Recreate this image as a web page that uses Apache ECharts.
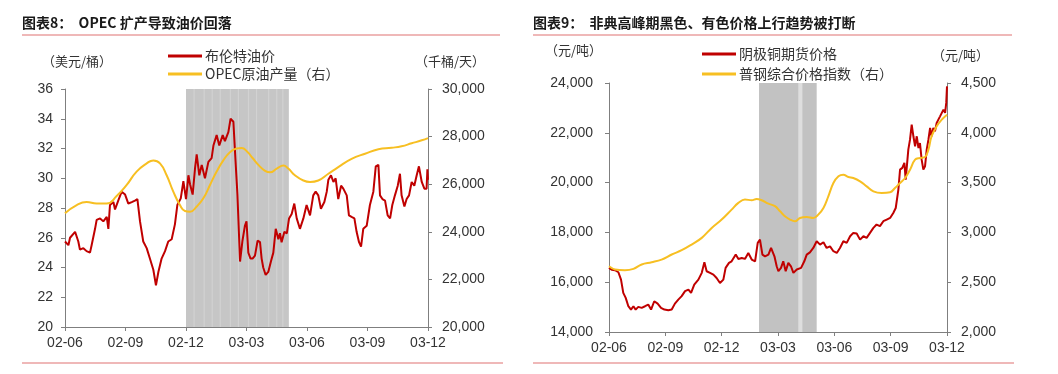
<!DOCTYPE html>
<html><head><meta charset="utf-8">
<script src="https://cdn.jsdelivr.net/npm/echarts@6/dist/echarts.min.js"></script>
<style>html,body{margin:0;padding:0;background:#fff}#c{width:1058px;height:374px}</style>
</head><body><div id="c"></div>
<script>
// x positions: months elapsed since 2002-06
const tickLabels = ['02-06','02-09','02-12','03-03','03-06','03-09','03-12'];
const brent = [[0,25.75],[0.17,25.5],[0.25,26.0],[0.5,26.4],[0.58,26.5],[0.66,25.75],[0.74,25.2],[0.91,25.3],[1.07,25.1],[1.24,25.0],[1.32,25.5],[1.49,26.6],[1.57,27.2],[1.74,27.3],[1.9,27.1],[2.07,27.4],[2.15,26.6],[2.23,28.2],[2.4,28.4],[2.48,27.9],[2.64,28.5],[2.81,29.1],[2.98,28.9],[3.14,28.3],[3.31,28.4],[3.47,28.5],[3.59,28.6],[3.72,27.1],[3.88,25.75],[4.05,25.3],[4.21,24.6],[4.38,23.85],[4.51,22.8],[4.63,23.7],[4.79,24.6],[4.96,25.1],[5.12,25.75],[5.29,25.9],[5.45,26.9],[5.57,28.2],[5.74,28.65],[5.87,29.8],[6.0,28.6],[6.12,30.2],[6.2,29.6],[6.33,28.9],[6.45,30.7],[6.53,31.6],[6.66,30.2],[6.78,30.9],[6.94,30.0],[7.11,31.1],[7.27,31.35],[7.36,32.2],[7.52,32.9],[7.65,32.2],[7.82,32.9],[7.93,32.5],[8.1,33.1],[8.21,34.0],[8.35,33.8],[8.43,31.8],[8.55,28.9],[8.68,24.4],[8.8,25.8],[8.92,26.8],[9.0,27.1],[9.09,25.0],[9.2,24.6],[9.3,24.6],[9.42,24.8],[9.55,25.8],[9.67,25.7],[9.75,24.6],[9.83,24.0],[9.95,23.5],[10.08,23.7],[10.21,24.4],[10.33,25.0],[10.45,26.6],[10.58,25.9],[10.66,26.3],[10.74,25.7],[10.88,26.4],[11.0,26.3],[11.11,27.3],[11.24,27.6],[11.37,28.3],[11.49,27.3],[11.65,26.6],[11.82,27.3],[11.98,28.2],[12.15,27.5],[12.31,28.85],[12.43,29.1],[12.56,28.85],[12.69,27.95],[12.86,28.4],[12.98,29.1],[13.06,29.9],[13.19,30.2],[13.31,29.75],[13.42,30.0],[13.55,28.6],[13.69,29.5],[13.8,29.3],[13.97,28.85],[14.08,27.5],[14.21,27.4],[14.35,27.3],[14.46,26.4],[14.58,25.7],[14.68,25.4],[14.79,26.6],[14.96,26.8],[15.12,28.2],[15.29,29.1],[15.41,30.8],[15.54,30.9],[15.62,28.85],[15.74,28.6],[15.87,28.5],[16.0,27.5],[16.12,27.3],[16.23,28.2],[16.36,28.85],[16.5,29.5],[16.61,30.3],[16.69,28.85],[16.83,28.1],[16.94,28.6],[17.06,28.85],[17.19,29.75],[17.32,29.5],[17.44,30.2],[17.55,30.8],[17.69,29.75],[17.82,29.3],[17.93,29.3],[17.97,30.6],[18.0,29.9]];
const opec = [[0,24781],[0.58,25125],[1.07,25250],[1.57,25188],[2.07,25188],[2.56,25500],[3.06,25969],[3.55,26531],[4.05,26875],[4.38,27000],[4.71,26875],[5.04,26375],[5.37,25688],[5.7,25125],[5.95,24875],[6.2,24844],[6.53,25063],[6.86,25406],[7.19,25969],[7.52,26531],[7.85,27000],[8.18,27344],[8.51,27500],[8.76,27520],[9.05,27350],[9.3,27100],[9.59,26813],[9.92,26563],[10.17,26500],[10.5,26656],[10.83,26781],[11.07,26656],[11.4,26375],[11.82,26156],[12.15,26094],[12.56,26156],[13.06,26438],[13.55,26719],[14.21,27063],[14.88,27281],[15.54,27469],[16.2,27531],[16.69,27594],[17.19,27719],[17.69,27844],[18.0,27938]];
const copper = [[0,16574],[0.14,16500],[0.32,16480],[0.5,16400],[0.64,16105],[0.76,15570],[0.89,15370],[1.03,15035],[1.17,14900],[1.3,15035],[1.42,14900],[1.56,15010],[1.74,14970],[1.92,15035],[2.09,15100],[2.24,14900],[2.41,15235],[2.59,15140],[2.77,14970],[2.95,14900],[3.16,14875],[3.34,14900],[3.51,15140],[3.69,15300],[3.87,15440],[4.05,15640],[4.23,15700],[4.37,15570],[4.54,15905],[4.76,16105],[4.94,16375],[5.08,16800],[5.2,16440],[5.38,16375],[5.56,16305],[5.73,16170],[5.91,15970],[6.09,16105],[6.21,16575],[6.39,16775],[6.53,16840],[6.75,17110],[6.89,16935],[7.07,16975],[7.24,16935],[7.42,17175],[7.6,16910],[7.78,16840],[7.92,17580],[8.04,17710],[8.17,17110],[8.31,17040],[8.49,17110],[8.63,17375],[8.81,17040],[8.93,16640],[9.02,16440],[9.16,16575],[9.28,16840],[9.41,16440],[9.55,16775],[9.69,16640],[9.82,16375],[10.0,16510],[10.23,16575],[10.4,16840],[10.53,17110],[10.7,17200],[10.88,17375],[11.06,17645],[11.24,17510],[11.42,17605],[11.59,17375],[11.77,17440],[11.95,17245],[12.13,17175],[12.3,17375],[12.48,17645],[12.66,17580],[12.84,17845],[13.01,17980],[13.19,17955],[13.37,17710],[13.55,17845],[13.72,17780],[13.9,17980],[14.08,18180],[14.25,18315],[14.43,18250],[14.61,18450],[14.79,18515],[14.97,18580],[15.14,18780],[15.27,18980],[15.41,19720],[15.5,20520],[15.62,20590],[15.73,20790],[15.8,20120],[15.94,21325],[16.03,21725],[16.12,22330],[16.21,21860],[16.3,21460],[16.39,21860],[16.48,21390],[16.56,21590],[16.65,20920],[16.74,20520],[16.83,20655],[16.92,21325],[17.01,21725],[17.1,22195],[17.18,21860],[17.27,22195],[17.36,22060],[17.45,22395],[17.54,22530],[17.63,22660],[17.72,22600],[17.81,22930],[17.9,22800],[17.96,23200],[18.0,23865]];
const steel = [[0,2660],[0.32,2628],[0.85,2620],[1.3,2634],[1.74,2678],[2.27,2700],[2.8,2727],[3.34,2778],[3.87,2821],[4.4,2878],[4.94,2945],[5.47,3045],[6.0,3129],[6.53,3229],[6.89,3296],[7.24,3330],[7.6,3323],[7.86,3336],[8.13,3323],[8.49,3289],[8.84,3263],[9.11,3212],[9.37,3162],[9.64,3129],[9.9,3112],[10.17,3145],[10.53,3155],[10.88,3145],[11.15,3179],[11.42,3245],[11.68,3362],[11.95,3496],[12.22,3564],[12.48,3580],[12.75,3556],[13.01,3546],[13.37,3513],[13.72,3462],[14.08,3412],[14.52,3396],[14.97,3403],[15.23,3446],[15.5,3496],[15.77,3546],[16.03,3630],[16.3,3730],[16.56,3747],[16.83,3757],[17.01,3831],[17.18,3965],[17.45,4065],[17.72,4132],[18.0,4182]];
const sarsLeft = [6.0, 11.1];
const leftStripes = [6.4, 6.9, 7.3, 7.7, 8.2, 8.6, 9.1, 9.5, 10.1, 10.5, 10.8];
const sarsRight = [7.99, 11.06];
const rightGap = [10.08, 10.3];

const RED = '#c00000', YEL = '#f7bf22', AX = '#7f7f7f', TXT = '#333';
const numFont = 'Liberation Sans, Arial, sans-serif';
const cjk = '"Noto Sans CJK SC", sans-serif';
const fmtC = v => v.toLocaleString('en-US');

function xAxis(gi){
  return {type:'value', gridIndex:gi, min:0, max:18, interval:3,
    axisLine:{lineStyle:{color:AX,width:1}}, axisTick:{show:true,length:4,lineStyle:{color:AX}},
    splitLine:{show:false},
    axisLabel:{formatter:v=>tickLabels[Math.round(v/3)], color:TXT, fontFamily:numFont, fontSize:14, margin:9}};
}
function yAxis(gi,pos,min,max,iv,fmt,margin){
  return {type:'value', gridIndex:gi, position:pos, min, max, interval:iv,
    axisLine:{show:true,lineStyle:{color:AX,width:1}}, axisTick:{show:true,length:4,lineStyle:{color:AX}},
    splitLine:{show:false},
    axisLabel:{formatter:fmt, color:TXT, fontFamily:numFont, fontSize:14, margin}};
}

const stripeData = leftStripes.map(s => [{xAxis:s-0.03, itemStyle:{color:'rgba(225,225,225,0.45)'}},{xAxis:s+0.03}]);

const option = {
  animation:false,
  grid:[{left:65,right:630,top:89,bottom:47},{left:609,right:111,top:83,bottom:42}],
  xAxis:[xAxis(0), xAxis(1)],
  yAxis:[
    yAxis(0,'left',20,36,2,v=>String(v),12),
    yAxis(0,'right',20000,30000,2000,fmtC,14),
    yAxis(1,'left',14000,24000,2000,fmtC,16),
    yAxis(1,'right',2000,4500,500,fmtC,14)
  ],
  legend:[
    {data:['布伦特油价','OPEC原油产量（右）'], orient:'vertical', left:163, top:44, itemGap:4,
     itemWidth:34, itemHeight:3, icon:'rect', textStyle:{fontFamily:cjk, fontSize:14, color:TXT, padding:[0,0,0,-2]}},
    {data:['阴极铜期货价格','普钢综合价格指数（右）'], orient:'vertical', left:697, top:42, itemGap:6,
     itemWidth:34, itemHeight:3, icon:'rect', textStyle:{fontFamily:cjk, fontSize:14, color:TXT, padding:[0,0,0,-2]}}
  ],
  series:[
    {name:'shadeL', type:'line', xAxisIndex:0, yAxisIndex:0, data:[], silent:true, z:1,
      markArea:{silent:true, itemStyle:{color:'#c6c6c6'}, data:[[{xAxis:sarsLeft[0]},{xAxis:sarsLeft[1]}]].concat(stripeData)}},
    {name:'shadeR', type:'line', xAxisIndex:1, yAxisIndex:2, data:[], silent:true, z:1,
      markArea:{silent:true, itemStyle:{color:'#c2c2c2'}, data:[[{xAxis:sarsRight[0]},{xAxis:sarsRight[1]}],
        [{xAxis:rightGap[0], itemStyle:{color:'#dedede'}},{xAxis:rightGap[1]}]]}},
    {name:'布伦特油价', type:'line', xAxisIndex:0, yAxisIndex:0, data:brent, showSymbol:false, z:3,
      lineStyle:{color:RED,width:2}, itemStyle:{color:RED}},
    {name:'OPEC原油产量（右）', type:'line', xAxisIndex:0, yAxisIndex:1, data:opec, smooth:0.5, showSymbol:false, z:4,
      lineStyle:{color:YEL,width:2}, itemStyle:{color:YEL}},
    {name:'阴极铜期货价格', type:'line', xAxisIndex:1, yAxisIndex:2, data:copper, showSymbol:false, z:3,
      lineStyle:{color:RED,width:2}, itemStyle:{color:RED}},
    {name:'普钢综合价格指数（右）', type:'line', xAxisIndex:1, yAxisIndex:3, data:steel, smooth:0.4, showSymbol:false, z:4,
      lineStyle:{color:YEL,width:2}, itemStyle:{color:YEL}}
  ],
  graphic:[
    {type:'text', left:22, top:16, style:{text:'图表8：  OPEC 扩产导致油价回落', font:'bold 14px "Noto Sans CJK SC", sans-serif', fill:'#1a1a1a'}},
    {type:'text', left:533, top:16, style:{text:'图表9：  非典高峰期黑色、有色价格上行趋势被打断', font:'bold 14px "Noto Sans CJK SC", sans-serif', fill:'#1a1a1a'}},
    {type:'line', shape:{x1:22,y1:35,x2:500,y2:35}, style:{stroke:'#eaa0a0',lineWidth:1.5}},
    {type:'line', shape:{x1:533,y1:35,x2:1012,y2:35}, style:{stroke:'#eaa0a0',lineWidth:1.5}},
    {type:'line', shape:{x1:22,y1:363,x2:503,y2:363}, style:{stroke:'#eaa0a0',lineWidth:1.5}},
    {type:'line', shape:{x1:533,y1:363,x2:1014,y2:363}, style:{stroke:'#eaa0a0',lineWidth:1.5}},
    {type:'text', left:42, top:55, style:{text:'（美元/桶）', font:'13px "Noto Sans CJK SC", sans-serif', fill:TXT}},
    {type:'text', left:415, top:55, style:{text:'（千桶/天）', font:'13px "Noto Sans CJK SC", sans-serif', fill:TXT}},
    {type:'text', left:545, top:44, style:{text:'（元/吨）', font:'13px "Noto Sans CJK SC", sans-serif', fill:TXT}},
    {type:'text', left:932, top:49, style:{text:'（元/吨）', font:'13px "Noto Sans CJK SC", sans-serif', fill:TXT}}
  ]
};
const chart = echarts.init(document.getElementById('c'), null, {renderer:'canvas'});
chart.setOption(option);
</script></body></html>
